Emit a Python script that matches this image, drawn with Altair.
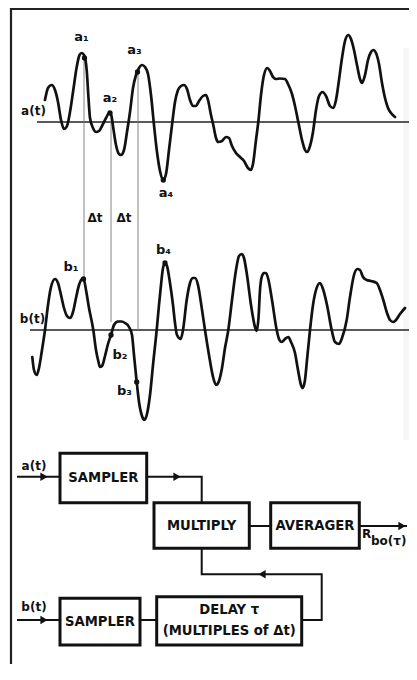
import altair as alt
import pandas as pd

# ---------------- data ----------------
# signal a(t): time positions and amplitudes (above its zero line)
a_time = [45, 48, 51.7, 55, 58, 61, 64, 67, 70, 73.3, 76.7, 79.5, 81.7, 84, 86.7, 88.3, 90, 93, 96, 99,
          102, 106, 109.5, 111.5, 113, 116, 119, 121, 124, 127, 130, 133, 136, 139, 142, 145, 148, 151,
          154, 157, 160, 163.3, 166, 169, 172, 175, 178, 181, 184, 187, 190, 193, 196, 199, 203, 206,
          208, 211, 213.3, 216, 218.3, 222, 226, 229, 232, 236, 240, 244, 248, 250.7, 253, 256, 258.3,
          261, 264, 267.3, 270, 273, 276, 280, 285, 288, 291.7, 295, 298.3, 302, 305, 307, 310, 313,
          316, 319, 322.7, 326, 330, 333.3, 336, 339, 342, 345, 348.3, 351, 354, 357, 360, 362, 365,
          368, 371, 373.3, 376, 379, 382, 385, 388, 391, 395]
a_amp = [22, 34, 37, 32, 20, 2, -7, -4, 10, 32, 55, 67, 69, 67, 52, 27, 4, -6, -10, -9,
         -4, 4, 9.5, 6, -4, -23, -32, -33, -28, -10, 10, 34, 47, 54, 57, 55, 48, 27,
         -3, -30, -49, -58, -52, -28, -3, 20, 32, 36, 37, 33, 22, 16, 16, 21, 26, 27,
         22, 7, -3, -16, -20, -19, -15, -16, -24, -31, -35, -39, -46, -48, -42, -18, 0,
         27, 47, 54, 51, 45, 43, 43.5, 43, 38, 29, 16, 0, -18, -28, -30, -24, -10,
         12, 26, 30, 26, 16, 14, 22, 42, 64, 81, 87, 83, 72, 57, 43, 39, 47,
         62, 70, 72, 69, 58, 39, 24, 14, 9, 5]

# signal b(t)
b_time = [32.3, 34, 36.7, 39, 42, 45, 48, 51, 55, 58, 61, 64, 67, 70, 73, 76, 79, 82, 83.5, 86, 89,
          93.3, 96, 98.5, 100, 102, 105, 108, 111, 114, 118, 121.7, 125, 129, 132, 134, 136.7, 139,
          142, 144.3, 147, 150, 153, 156.7, 159, 161, 163, 165, 167, 170, 173, 175, 177, 180.7, 183,
          186.7, 190, 193, 195, 198, 201, 205, 209, 213.3, 216, 219, 222, 225, 228.3, 232, 236, 239,
          241.7, 244, 247, 251, 255, 256.7, 258.5, 260, 261.7, 264, 266, 268.5, 272, 276.7, 279,
          281.7, 285, 288.3, 291, 295, 298, 301, 302.7, 305, 307, 310, 313, 316, 320, 323, 327,
          331.7, 335, 339, 342, 346.7, 350, 354, 357.3, 360, 363, 366.7, 371, 376.7, 380, 383.3,
          387, 390, 393.3, 396, 400, 405]
b_amp = [-27, -40, -45, -38, -20, 0, 25, 43, 51, 47, 35, 22, 14, 12, 18, 32, 45, 51, 51.5, 40, 22,
         0, -20, -32, -37, -36, -26, -14, -5, 5, 8.5, 8.5, 7, 3, -5, -25, -52, -72,
         -86, -90, -84, -65, -35, 0, 25, 45, 62, 67, 64, 47, 25, 7, -5, -9, 0,
         30, 47, 52, 52, 45, 27, 0, -25, -48, -55, -51, -38, -18, 0, 30, 60, 74,
         76, 72, 55, 25, 3, -1, 12, 40, 53, 57, 57, 50, 30, 0, -9,
         -12, -9, -7, -12, -23, -40, -55, -58, -50, -30, 0, 25, 40, 47, 41, 25,
         0, -12, -14, -8, 10, 33, 55, 61, 60, 53, 50, 49, 47, 40, 30,
         17, 10, 8, 10, 16, 22]

# sampled points
a_pt_names = ["a\u2081", "a\u2082", "a\u2083", "a\u2084"]
a_pt_time = [84.5, 110, 137.5, 163.3]
a_pt_amp = [64, 9, 50, -58]
b_pt_names = ["b\u2081", "b\u2082", "b\u2083", "b\u2084"]
b_pt_time = [83.5, 111, 136.7, 165]
b_pt_amp = [51, -5, -52, 67]

# block diagram
box_labels = ["SAMPLER", "MULTIPLY", "AVERAGER", "DELAY \u03c4\n(MULTIPLES of \u0394t)", "SAMPLER"]

# ---------------- layout (drawing frame) ----------------
A_BASE, B_BASE = 122, 330
FONT = "DejaVu Sans"
W, H = 401, 656          # fits the 417x680 window with its 8px margins

xs = alt.Scale(domain=[8, 8 + W], nice=False, zero=False)
ys = alt.Scale(domain=[8, 8 + H], nice=False, zero=False, reverse=True)
X = lambda f="x": alt.X(f"{f}:Q", scale=xs, axis=None)
Y = lambda f="y": alt.Y(f"{f}:Q", scale=ys, axis=None)

sig = pd.concat([
    pd.DataFrame({"x": a_time, "y": [A_BASE - v for v in a_amp], "s": "a"}),
    pd.DataFrame({"x": b_time, "y": [B_BASE - v for v in b_amp], "s": "b"}),
])
pts = pd.concat([
    pd.DataFrame({"x": a_pt_time, "y": [A_BASE - v for v in a_pt_amp], "n": a_pt_names}),
    pd.DataFrame({"x": b_pt_time, "y": [B_BASE - v for v in b_pt_amp], "n": b_pt_names}),
])
pt_lab = pd.DataFrame({
    "n": a_pt_names + b_pt_names,
    "x": [81.5, 110, 134.5, 166, 71, 120, 124.5, 163.5],
    "y": [37, 98, 50, 193, 267, 355, 391, 250],
})

# frame + zero lines + sampling guides
RIGHT = 8 + W
rules = pd.DataFrame({
    "x":  [11.5, 11, 37, 30, 84, 111, 138],
    "x2": [RIGHT, 11, RIGHT, RIGHT, 84, 111, 138],
    "y":  [9, 8, A_BASE, B_BASE, 57, 113, 72],
    "y2": [9, 8 + H, A_BASE, B_BASE, 279, 322, 330],
    "w":  [2.2, 2.2, 1.3, 1.3, 0.9, 0.9, 0.9],
    "c":  ["#222", "#222", "#222", "#222", "#777", "#777", "#777"],
})

# faint scan shading at the right edge
shade = pd.DataFrame({"x": [403], "x2": [RIGHT], "y": [48], "y2": [440]})

boxes = pd.DataFrame({
    "x": [60, 154, 270.7, 156.7, 60],
    "x2": [146.7, 249.3, 359.3, 301.7, 140],
    "y": [453.3, 502.7, 502.7, 596.7, 598.3],
    "y2": [502.7, 548.3, 548.3, 645, 645],
    "t": box_labels,
})
rows = []
for _, r in boxes.iterrows():
    lines = r.t.split("\n")
    n = len(lines)
    for i, ln in enumerate(lines):
        rows.append({"cx": (r.x + r.x2) / 2,
                     "cy": (r.y + r.y2) / 2 + (i - (n - 1) / 2) * 21,
                     "t": ln})
box_text = pd.DataFrame(rows)

wires = pd.DataFrame([
    (1, 0, 18, 476.7), (1, 1, 60, 476.7),
    (2, 0, 146.7, 476.7), (2, 1, 201.7, 476.7), (2, 2, 201.7, 502.7),
    (3, 0, 249.3, 526), (3, 1, 270.7, 526),
    (4, 0, 359.3, 526), (4, 1, 406, 526),
    (5, 0, 201.7, 548.3), (5, 1, 201.7, 574.3), (5, 2, 321.7, 574.3), (5, 3, 321.7, 620), (5, 4, 301.7, 620),
    (6, 0, 140, 620), (6, 1, 156.7, 620),
    (7, 0, 18, 620), (7, 1, 60, 620),
], columns=["g", "o", "x", "y"])

heads = pd.DataFrame({
    "x": [44, 177, 402, 262, 44],
    "y": [476.7, 476.7, 526, 574.3, 620],
    "sh": ["triangle-right", "triangle-right", "triangle-right", "triangle-left", "triangle-right"],
})

texts = pd.DataFrame({
    "x": [33.5, 32.5, 95, 124, 34, 34],
    "y": [110.5, 319, 218, 218, 466, 607],
    "t": ["a(t)", "b(t)", "\u0394t", "\u0394t", "a(t)", "b(t)"],
})

# ---------------- layers ----------------
l_shade = alt.Chart(shade).mark_rect(fill="#f6f6f6").encode(x=X(), x2="x2:Q", y=Y(), y2="y2:Q")
l_rules = alt.Chart(rules).mark_rule().encode(
    x=X(), x2="x2:Q", y=Y(), y2="y2:Q",
    strokeWidth=alt.StrokeWidth("w:Q", scale=None),
    color=alt.Color("c:N", scale=None),
)
l_sig = alt.Chart(sig).mark_line(interpolate="monotone", color="#111", strokeWidth=2.7,
                                 strokeJoin="round", strokeCap="round").encode(
    x=X(), y=Y(), detail="s:N", order="x:Q")
l_pts = alt.Chart(pts).mark_circle(color="#111", size=28, opacity=1).encode(x=X(), y=Y())
l_ptlab = alt.Chart(pt_lab).mark_text(font=FONT, fontSize=13, fontWeight="bold", color="#111").encode(
    x=X(), y=Y(), text="n:N")
l_text = alt.Chart(texts).mark_text(font=FONT, fontSize=12, fontWeight="bold", color="#111").encode(
    x=X(), y=Y(), text="t:N")

l_wires = alt.Chart(wires).mark_line(color="#111", strokeWidth=2, strokeCap="square").encode(
    x=X(), y=Y(), detail="g:N", order="o:Q")
l_heads = alt.Chart(heads).mark_point(filled=True, color="#111", size=70, opacity=1).encode(
    x=X(), y=Y(), shape=alt.Shape("sh:N", scale=None))
l_boxes = alt.Chart(boxes).mark_rect(fill="white", stroke="#111", strokeWidth=3).encode(
    x=X(), x2="x2:Q", y=Y(), y2="y2:Q")
l_boxtext = alt.Chart(box_text).mark_text(font=FONT, fontSize=13.2, fontWeight="bold",
                                          color="#111").encode(
    x=X("cx"), y=Y("cy"), text="t:N")

out_lab = pd.DataFrame({"x": [362, 371], "y": [534, 541], "t": ["R", "bo(\u03c4)"]})
l_out = alt.Chart(out_lab).mark_text(font=FONT, fontSize=12, fontWeight="bold", color="#111",
                                     align="left").encode(x=X(), y=Y(), text="t:N")

chart = alt.layer(
    l_shade, l_rules, l_sig, l_pts, l_ptlab, l_text, l_wires, l_heads, l_boxes, l_boxtext, l_out
).properties(
    width=W, height=H, padding=0, autosize="none", background="white"
).configure_view(strokeWidth=0)

chart.save("out.html", embed_options={"renderer": "svg", "actions": False})
